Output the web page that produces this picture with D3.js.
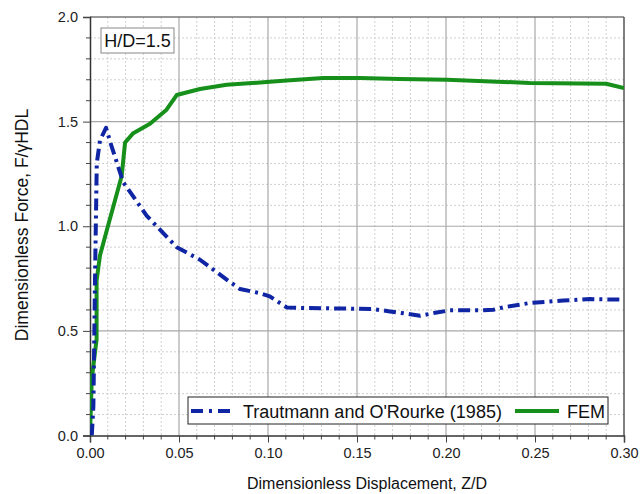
<!DOCTYPE html>
<html><head><meta charset="utf-8">
<script src="https://cdn.jsdelivr.net/npm/d3@7"></script>
<style>body{margin:0;background:#fff;} text{font-family:"Liberation Sans",Arial,sans-serif;}</style>
</head><body>
<svg id="c" width="640" height="494"></svg>
<script>
const trautX = [0.001,0.0019,0.0028,0.0038,0.0056,0.009,0.0122,0.0187,0.0319,0.0487,0.0618,0.0768,0.0843,0.0955,0.101,0.1105,0.1217,0.148,0.159,0.1685,0.178,0.1854,0.1948,0.2022,0.219,0.2266,0.232,0.247,0.266,0.281,0.30];
const trautY = [0.0,0.14,0.74,1.30,1.41,1.47,1.38,1.21,1.05,0.90,0.84,0.745,0.70,0.68,0.665,0.612,0.609,0.606,0.604,0.593,0.582,0.572,0.588,0.598,0.598,0.601,0.612,0.633,0.645,0.652,0.649];
const femX = [0.0,0.001,0.0037,0.0037,0.0056,0.0094,0.0178,0.0197,0.0243,0.0337,0.043,0.0487,0.0618,0.0768,0.0993,0.1105,0.131,0.1517,0.174,0.2004,0.247,0.290,0.30];
const femY = [0.0,0.27,0.46,0.74,0.86,0.98,1.24,1.40,1.445,1.49,1.557,1.627,1.656,1.676,1.689,1.697,1.708,1.708,1.704,1.700,1.685,1.681,1.66];
const xTicks = [0,0.05,0.10,0.15,0.20,0.25,0.30];
const yTicks = [0,0.5,1.0,1.5,2.0];
const seriesNames = ["Trautmann and O'Rourke (1985)","FEM"];
const annotation = "H/D=1.5";

const svg = d3.select("#c");
const L=90, R=624, T=17, B=435.5;
const x = d3.scaleLinear().domain([0,0.30]).range([L,R]);
const y = d3.scaleLinear().domain([0,2.0]).range([B,T]);
const blue="#0f25a3", green="#16901a";

// minor grid
const xMinor = d3.range(0,0.3001,0.01).filter(v=>Math.abs(v*20-Math.round(v*20))>1e-6);
const yMinor = d3.range(0,2.0001,0.1).filter(v=>Math.abs(v*2-Math.round(v*2))>1e-6);
const g = svg.append("g");
g.selectAll(".xm").data(xMinor).enter().append("line")
 .attr("x1",d=>x(d)).attr("x2",d=>x(d)).attr("y1",T).attr("y2",B)
 .attr("stroke","#cfcfcf").attr("stroke-dasharray","2,2");
g.selectAll(".ym").data(yMinor).enter().append("line")
 .attr("y1",d=>y(d)).attr("y2",d=>y(d)).attr("x1",L).attr("x2",R)
 .attr("stroke","#cfcfcf").attr("stroke-dasharray","2,2");
// major grid
g.selectAll(".xg").data(xTicks.slice(1,-1)).enter().append("line")
 .attr("x1",d=>x(d)).attr("x2",d=>x(d)).attr("y1",T).attr("y2",B)
 .attr("stroke","#a8a8a8").attr("stroke-width",1.2);
g.selectAll(".yg").data(yTicks.slice(1,-1)).enter().append("line")
 .attr("y1",d=>y(d)).attr("y2",d=>y(d)).attr("x1",L).attr("x2",R)
 .attr("stroke","#a8a8a8").attr("stroke-width",1.2);
// frame top/right
svg.append("line").attr("x1",L).attr("x2",R).attr("y1",T).attr("y2",T).attr("stroke","#777").attr("stroke-width",1.5);
svg.append("line").attr("x1",R).attr("x2",R).attr("y1",T).attr("y2",B).attr("stroke","#555").attr("stroke-width",1.5);

// axes
const xAxis = d3.axisBottom(x).tickValues(xTicks).tickFormat(d3.format(".2f")).tickSize(7).tickPadding(5);
const gx = svg.append("g").attr("transform",`translate(0,${B})`).call(xAxis);
gx.selectAll(".xmt").data(xMinor).enter().append("line").attr("x1",d=>x(d)).attr("x2",d=>x(d)).attr("y1",0).attr("y2",4).attr("stroke","#444");
const yAxis = d3.axisLeft(y).tickValues(yTicks).tickFormat(d3.format(".1f")).tickSize(7).tickPadding(5);
const gy = svg.append("g").attr("transform",`translate(${L},0)`).call(yAxis);
gy.selectAll(".ymt").data(yMinor).enter().append("line").attr("y1",d=>y(d)).attr("y2",d=>y(d)).attr("x1",0).attr("x2",-4).attr("stroke","#444");
[gx,gy].forEach(a=>{
  a.select(".domain").attr("stroke","#333").attr("stroke-width",1.5);
  a.selectAll(".tick line").attr("stroke","#444");
  a.selectAll("text").attr("font-size",14.5).attr("fill","#222").attr("font-family","Liberation Sans, Arial, sans-serif");
});

// lines
svg.append("clipPath").attr("id","cp").append("rect").attr("x",L).attr("y",T-5).attr("width",R-L).attr("height",B-T+5);
const line = d3.line().x(d=>x(d[0])).y(d=>y(d[1]));
svg.append("path").datum(femX.map((v,i)=>[v,femY[i]])).attr("d",line)
 .attr("fill","none").attr("stroke",green).attr("stroke-width",4).attr("stroke-linejoin","round").attr("clip-path","url(#cp)");
svg.append("path").datum(trautX.map((v,i)=>[v,trautY[i]])).attr("d",line)
 .attr("fill","none").attr("stroke",blue).attr("stroke-width",4).attr("stroke-dasharray","12,5,3,5").attr("stroke-linejoin","round").attr("clip-path","url(#cp)");

// annotation box
svg.append("rect").attr("x",101).attr("y",28).attr("width",73).attr("height",25).attr("fill","#fff").attr("stroke","#888");
svg.append("text").attr("x",137.5).attr("y",47).attr("text-anchor","middle").attr("font-size",18).attr("fill","#111").text(annotation);

// legend
const lg = svg.append("g");
lg.append("rect").attr("x",188).attr("y",397).attr("width",420).attr("height",27).attr("fill","#fff").attr("stroke","#222");
lg.append("line").attr("x1",191).attr("x2",233).attr("y1",411).attr("y2",411).attr("stroke",blue).attr("stroke-width",4).attr("stroke-dasharray","12,6,3,6");
lg.append("text").attr("x",243).attr("y",417.5).attr("font-size",18).attr("fill","#111").text(seriesNames[0]);
lg.append("line").attr("x1",515).attr("x2",559).attr("y1",411).attr("y2",411).attr("stroke",green).attr("stroke-width",4);
lg.append("text").attr("x",567).attr("y",417.5).attr("font-size",18).attr("fill","#111").text(seriesNames[1]);

// axis titles
svg.append("text").attr("x",367).attr("y",489).attr("text-anchor","middle").attr("font-size",16).attr("fill","#111").text("Dimensionless Displacement, Z/D");
svg.append("text").attr("transform","translate(28,225) rotate(-90)").attr("text-anchor","middle").attr("font-size",17.5).attr("fill","#111").text("Dimensionless Force, F/\u03B3HDL");
</script>
</body></html>
